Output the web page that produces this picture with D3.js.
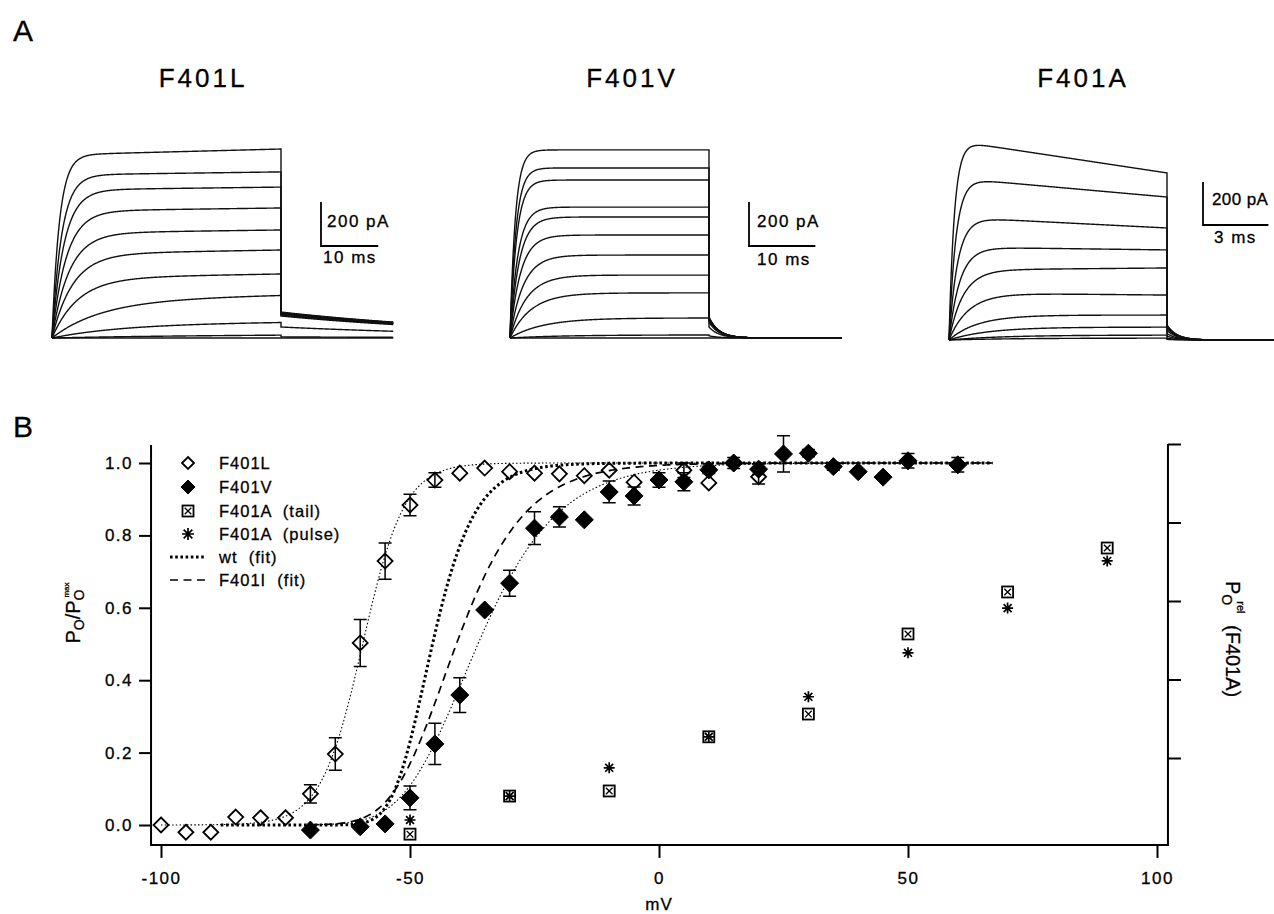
<!DOCTYPE html>
<html><head><meta charset="utf-8">
<script src="https://cdn.jsdelivr.net/npm/d3@7"></script>
<style>
body{margin:0;background:#fff}
svg text{font-family:"Liberation Sans",Arial,Helvetica,sans-serif;fill:#000;stroke:#000;stroke-width:0.3px}
</style></head>
<body><svg id="c" width="1274" height="914"></svg>
<script>
// ================= DATA =================
// Panel A: current traces (amplitudes in pA, times in ms)
const traceTitles = ["F401L", "F401V", "F401A"];
const pulseMs = [40, 30, 10];
const afterMs = [19.6, 20, 5];
const scaleBarMs = [10, 10, 3];
const scaleBarPA = 200;
const tailTauMs = [40, 1.5, 0.45];

const F401L_early = [832, 741, 673, 577, 477, 382, 273, 173, 64, 9, 0];
const F401L_end   = [859, 755, 686, 591, 491, 400, 291, 195, 73, 14, 0];
const F401L_tau   = [1.3, 1.7, 2.1, 2.5, 3.0, 3.6, 4.5, 8.5, 12, 15, 15];
const F401L_tail  = [118, 116, 114, 111, 109, 106, 104, 100, 50, 5, 0];

const F401V_early = [855, 773, 718, 595, 550, 468, 377, 286, 205, 91, 14, 0];
const F401V_end   = [855, 773, 718, 595, 550, 468, 377, 286, 205, 91, 14, 0];
const F401V_tau   = [0.8, 0.9, 1.0, 1.2, 1.4, 1.6, 2.0, 2.5, 3.2, 5, 8, 8];
const F401V_tail  = [95, 93, 91, 90, 88, 86, 84, 80, 72, 50, 10, 0];

const F401A_early = [930, 755, 572, 432, 326, 219, 116, 60, 23, 9];
const F401A_end   = [777, 665, 521, 419, 335, 209, 116, 60, 23, 9];
const F401A_tau   = [0.25, 0.32, 0.4, 0.5, 0.65, 0.9, 1.3, 1.8, 2.5, 3];
const F401A_tail  = [70, 68, 65, 60, 55, 45, 30, 18, 8, 3];

// Panel B: open probability vs voltage
const xTicks = [-100, -50, 0, 50, 100];
const yTicks = [0, 0.2, 0.4, 0.6, 0.8, 1.0];
const yRightTicks = [0.2, 0.4, 0.6, 0.8, 1.0];

const vL = [-100,-95,-90,-85,-80,-75,-70,-65,-60,-55,-50,-45,-40,-35,-30,-25,-20,-15,-10,-5,0,5,10,15,20];
const pL = [0.0,-0.02,-0.02,0.022,0.02,0.02,0.086,0.196,0.503,0.729,0.884,0.953,0.972,0.986,0.976,0.972,0.970,0.965,0.98,0.947,0.955,0.98,0.945,1.0,0.962];
const eL = [0,0,0,0,0,0,0.025,0.045,0.065,0.05,0.03,0.02,0,0,0,0,0,0,0,0,0,0.02,0,0,0.02];

const vV = [-70,-60,-55,-50,-45,-40,-35,-30,-25,-20,-15,-10,-5,0,5,10,15,20,25,30,35,40,45,50,60];
const pV = [-0.014,-0.005,0.003,0.075,0.224,0.359,0.594,0.668,0.82,0.851,0.843,0.92,0.909,0.953,0.948,0.981,1.0,0.983,1.025,1.027,0.99,0.976,0.961,1.006,0.995];
const eV = [0,0,0,0.033,0.057,0.048,0,0.036,0.045,0.028,0,0.03,0.025,0.02,0.025,0.01,0.015,0.015,0.05,0.01,0.01,0,0,0.02,0.02];

const vA = [-50,-30,-10,10,30,50,70,90];
const pA_tail  = [0.006,0.103,0.116,0.254,0.312,0.516,0.623,0.735];
const pA_pulse = [0.042,0.103,0.175,0.254,0.356,0.468,0.582,0.702];

// Boltzmann fits: p = (1/(1+exp((Vh-V)/k)))^n
const fitNames  = ["F401L", "F401V", "wt", "F401I"];
const fitVhalf  = [-59.5, -53.0, -54.3, -55.0];
const fitSlope  = [4.2, 10.0, 5.3, 8.6];
const fitPower  = [1, 4, 4, 4];
const fitFrom   = [-100, -70, -88, -70];
const fitTo     = [67, 67, 67, 67];

const legendLabels = ["F401L", "F401V", "F401A (tail)", "F401A (pulse)", "wt (fit)", "F401I (fit)"];

// ================= DRAW =================
const svg = d3.select("#c");

svg.append("text").attr("x", 13).attr("y", 41).attr("font-size", 30).text("A");
svg.append("text").attr("x", 13).attr("y", 437).attr("font-size", 30).text("B");

// ---------- Panel A ----------
const panelLayout = [
  {xStart: 52,  xEnd: 281,  base: 338, px200: 44, titleX: 203,  barX: 321,  barY: 246, lblY1: 227, lblY2: 263, lblDx1: 6, lblDx2: 2, ls: 1.5},
  {xStart: 510, xEnd: 709,  base: 338, px200: 44, titleX: 632,  barX: 749,  barY: 246, lblY1: 227, lblY2: 265, lblDx1: 8, lblDx2: 8, ls: 1.5},
  {xStart: 949, xEnd: 1167, base: 340, px200: 43, titleX: 1083, barX: 1203, barY: 225, lblY1: 205, lblY2: 243, lblDx1: 9, lblDx2: 11, ls: 0.4}
];
const traceSets = [
  {early: F401L_early, end: F401L_end, tau: F401L_tau, tail: F401L_tail},
  {early: F401V_early, end: F401V_end, tau: F401V_tau, tail: F401V_tail},
  {early: F401A_early, end: F401A_end, tau: F401A_tau, tail: F401A_tail}
];

traceSets.forEach((ts, k) => {
  const L = panelLayout[k];
  const T = pulseMs[k], after = afterMs[k], tt = tailTauMs[k];
  const xT = d3.scaleLinear().domain([0, T]).range([L.xStart, L.xEnd]);
  const yT = d3.scaleLinear().domain([0, scaleBarPA]).range([L.base, L.base - L.px200]);
  const g = svg.append("g");
  const line = d3.line().x(d => xT(d[0])).y(d => yT(d[1]));
  ts.early.forEach((a0, i) => {
    const pts = [];
    const n1 = 500;
    for (let j = 0; j <= n1; j++) {
      const t = T * j / n1;
      const a = a0 + (ts.end[i] - a0) * t / T;
      pts.push([t, a * (1 - Math.exp(-t / ts.tau[i]))]);
    }
    const n2 = 300;
    for (let j = 0; j <= n2; j++) {
      const t = after * j / n2;
      pts.push([T + t, ts.tail[i] * Math.exp(-t / tt)]);
    }
    g.append("path").attr("d", line(pts)).attr("fill", "none")
      .attr("stroke", "#111").attr("stroke-width", 1.4);
  });
  svg.append("text").attr("x", L.titleX).attr("y", 87).attr("text-anchor", "middle")
    .attr("font-size", 26).attr("letter-spacing", 3).text(traceTitles[k]);
  const bw = xT(scaleBarMs[k]) - xT(0);
  const bh = yT(0) - yT(scaleBarPA);
  svg.append("path").attr("d", `M${L.barX},${L.barY - bh}V${L.barY}H${L.barX + bw}`)
    .attr("fill", "none").attr("stroke", "#000").attr("stroke-width", 1.8);
  svg.append("text").attr("x", L.barX + L.lblDx1).attr("y", L.lblY1).attr("font-size", 17)
    .attr("letter-spacing", L.ls).text(scaleBarPA + " pA");
  svg.append("text").attr("x", L.barX + L.lblDx2).attr("y", L.lblY2).attr("font-size", 17)
    .attr("letter-spacing", 1.5).text(scaleBarMs[k] + " ms");
});

// ---------- Panel B ----------
const xB = d3.scaleLinear().domain([-100, 100]).range([161, 1157]);
const yB = d3.scaleLinear().domain([0, 1]).range([825, 463]);
const yR = d3.scaleLinear().domain([0, 1]).range([836.5, 444]);

const axisW = 2;
svg.append("path").attr("d", `M${xB(-102)},${yB(1.05)}V${yB(-0.055)}H${xB(102.2)}V${yR(1.0)}`)
  .attr("fill", "none").attr("stroke", "#000").attr("stroke-width", axisW);

const gx = svg.append("g").attr("transform", `translate(0,${yB(-0.055)})`)
  .call(d3.axisBottom(xB).tickValues(xTicks).tickSize(13).tickPadding(14).tickFormat(d => String(d)));
gx.select(".domain").remove();
gx.selectAll("line").attr("stroke-width", axisW);
gx.selectAll("text").attr("font-size", 17).attr("letter-spacing", 1.5)
  .attr("font-family", '"Liberation Sans",Arial,sans-serif');

const gy = svg.append("g").attr("transform", `translate(${xB(-102)},0)`)
  .call(d3.axisLeft(yB).tickValues(yTicks).tickSize(12).tickPadding(6).tickFormat(d3.format(".1f")));
gy.select(".domain").remove();
gy.selectAll("line").attr("stroke-width", axisW);
gy.selectAll("text").attr("font-size", 17).attr("letter-spacing", 1.5)
  .attr("font-family", '"Liberation Sans",Arial,sans-serif');

const gr = svg.append("g").attr("transform", `translate(${xB(102.2)},0)`)
  .call(d3.axisRight(yR).tickValues(yRightTicks).tickSize(13).tickFormat(""));
gr.select(".domain").remove();
gr.selectAll("line").attr("stroke-width", axisW);

svg.append("text").attr("x", xB(0)).attr("y", 910).attr("text-anchor", "middle")
  .attr("font-size", 17).attr("letter-spacing", 1).text("mV");

const yl = svg.append("text").attr("transform", "translate(80,613) rotate(-90)")
  .attr("text-anchor", "middle").attr("font-size", 20);
yl.append("tspan").text("P");
yl.append("tspan").attr("dy", 4).attr("font-size", 14).text("O");
yl.append("tspan").attr("dy", -4).text("/P");
yl.append("tspan").attr("dy", 4).attr("font-size", 14).text("O");
yl.append("tspan").attr("dx", -8).attr("dy", -15).attr("font-size", 8).text("max");

const yr = svg.append("text").attr("transform", "translate(1226,581) rotate(90)")
  .attr("font-size", 20);
yr.append("tspan").text("P");
yr.append("tspan").attr("dy", 4).attr("font-size", 14).text("O");
yr.append("tspan").attr("dx", -4).attr("dy", -15).attr("font-size", 11).text("rel");
svg.append("text").attr("transform", "translate(1226,625) rotate(90)")
  .attr("font-size", 20).text("(F401A)");

const fitStyles = [
  {w: 1.1, dash: "1.5,2.2"},
  {w: 1.1, dash: "1.5,2.2"},
  {w: 3, dash: "2.6,2.6"},
  {w: 1.7, dash: "8,5.5"}
];
const boltz = (v, i) => Math.pow(1 / (1 + Math.exp((fitVhalf[i] - v) / fitSlope[i])), fitPower[i]);
const fitLine = d3.line().x(d => xB(d[0])).y(d => yB(d[1]));
fitNames.forEach((nm, i) => {
  const pts = d3.range(fitFrom[i], fitTo[i] + 0.001, 0.25).map(v => [v, boltz(v, i)]);
  svg.append("path").attr("d", fitLine(pts)).attr("fill", "none").attr("stroke", "#000")
    .attr("stroke-width", fitStyles[i].w).attr("stroke-dasharray", fitStyles[i].dash);
});

function diamond(g, cx, cy, r, filled) {
  g.append("path").attr("d", `M${cx},${cy - r}L${cx + r},${cy}L${cx},${cy + r}L${cx - r},${cy}Z`)
    .attr("fill", filled ? "#000" : "none").attr("stroke", "#000")
    .attr("stroke-width", filled ? 1 : 1.8).attr("stroke-linejoin", "miter");
}
function boxX(g, cx, cy, s) {
  const h = s / 2;
  g.append("rect").attr("x", cx - h).attr("y", cy - h).attr("width", s).attr("height", s)
    .attr("fill", "#fff").attr("stroke", "#000").attr("stroke-width", 1.8);
  const q = h - 2.2;
  g.append("path").attr("d", `M${cx - q},${cy - q}L${cx + q},${cy + q}M${cx + q},${cy - q}L${cx - q},${cy + q}`)
    .attr("stroke", "#000").attr("stroke-width", 1.3);
}
function aster(g, cx, cy, r) {
  const d = r * 0.72;
  g.append("path").attr("d", `M${cx},${cy - r}V${cy + r}M${cx - r},${cy}H${cx + r}M${cx - d},${cy - d}L${cx + d},${cy + d}M${cx + d},${cy - d}L${cx - d},${cy + d}`)
    .attr("stroke", "#000").attr("stroke-width", 1.7);
}
function errBar(g, cx, cy, e) {
  if (!e) return;
  const y1 = yB(cy + e), y2 = yB(cy - e), x = xB(cx);
  g.append("path").attr("d", `M${x},${y1}V${y2}M${x - 6.5},${y1}H${x + 6.5}M${x - 6.5},${y2}H${x + 6.5}`)
    .attr("stroke", "#000").attr("stroke-width", 1.5).attr("fill", "none");
}

const gm = svg.append("g");
vL.forEach((v, i) => errBar(gm, v, pL[i], eL[i]));
vV.forEach((v, i) => errBar(gm, v, pV[i], eV[i]));
vL.forEach((v, i) => diamond(gm, xB(v), yB(pL[i]), 7.5, false));
vV.forEach((v, i) => diamond(gm, xB(v), yB(pV[i]), 9, true));
vA.forEach((v, i) => boxX(gm, xB(v), yR(pA_tail[i]), 11));
vA.forEach((v, i) => aster(gm, xB(v), yR(pA_pulse[i]), 5.5));

const lg = svg.append("g");
const legY = [463, 487, 511, 534, 557, 580];
const symX = 188, txtX = 219;
diamond(lg, symX, legY[0], 6, false);
diamond(lg, symX, legY[1], 7, true);
boxX(lg, symX, legY[2], 11);
aster(lg, symX, legY[3], 6);
lg.append("line").attr("x1", 170).attr("x2", 205).attr("y1", legY[4]).attr("y2", legY[4])
  .attr("stroke", "#000").attr("stroke-width", fitStyles[2].w).attr("stroke-dasharray", fitStyles[2].dash);
lg.append("line").attr("x1", 170).attr("x2", 207).attr("y1", legY[5]).attr("y2", legY[5])
  .attr("stroke", "#000").attr("stroke-width", fitStyles[3].w).attr("stroke-dasharray", fitStyles[3].dash);
legendLabels.forEach((t, i) => {
  lg.append("text").attr("x", txtX).attr("y", legY[i] + 6).attr("font-size", 16.5)
    .attr("letter-spacing", 1).style("white-space", "pre").text(t.replace(" ", "  "));
});
</script>
</body></html>
